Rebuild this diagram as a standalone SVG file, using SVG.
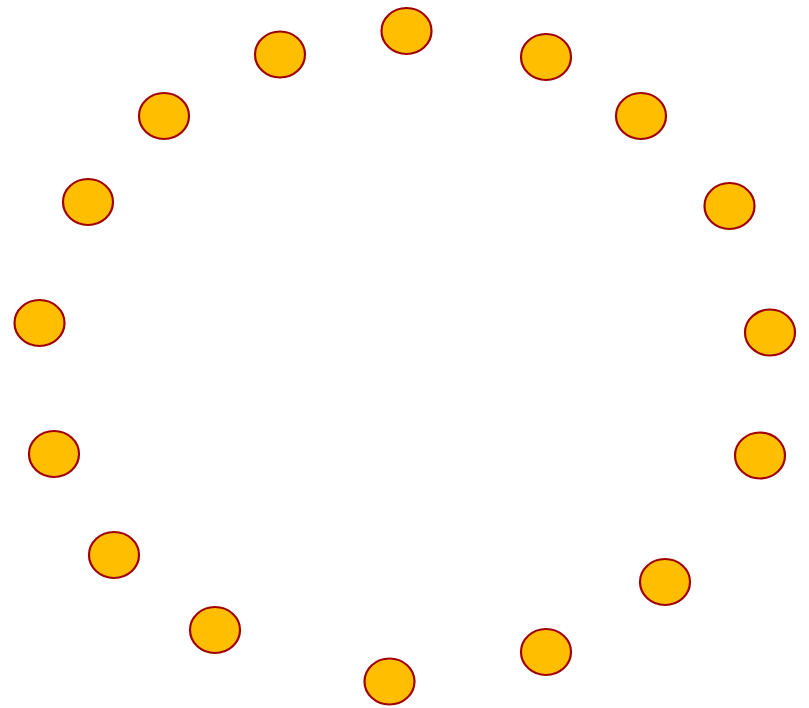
<svg xmlns="http://www.w3.org/2000/svg" width="809" height="708" viewBox="0 0 809 708">
<style>
.n{fill:#FFBF00;stroke:#A00000;stroke-width:2.2}
</style>
<rect width="809" height="708" fill="#ffffff"/>
<g id="connectors"></g>
<g id="n1"><ellipse class="n" cx="406.5" cy="31" rx="25" ry="23"/></g>
<g id="n2"><ellipse class="n" cx="280" cy="54.5" rx="25" ry="23"/></g>
<g id="n3"><ellipse class="n" cx="546" cy="57" rx="25" ry="23"/></g>
<g id="n4"><ellipse class="n" cx="164" cy="116" rx="25" ry="23"/></g>
<g id="n5"><ellipse class="n" cx="641" cy="116" rx="25" ry="23"/></g>
<g id="n6"><ellipse class="n" cx="88" cy="202" rx="25" ry="23"/></g>
<g id="n7"><ellipse class="n" cx="729.5" cy="206" rx="25" ry="23"/></g>
<g id="n8"><ellipse class="n" cx="39.5" cy="323" rx="25" ry="23"/></g>
<g id="n9"><ellipse class="n" cx="770" cy="332.5" rx="25" ry="23"/></g>
<g id="n10"><ellipse class="n" cx="54" cy="454" rx="25" ry="23"/></g>
<g id="n11"><ellipse class="n" cx="760" cy="455.5" rx="25" ry="23"/></g>
<g id="n12"><ellipse class="n" cx="114" cy="555" rx="25" ry="23"/></g>
<g id="n13"><ellipse class="n" cx="665" cy="582" rx="25" ry="23"/></g>
<g id="n14"><ellipse class="n" cx="215" cy="630" rx="25" ry="23"/></g>
<g id="n15"><ellipse class="n" cx="546" cy="652" rx="25" ry="23"/></g>
<g id="n16"><ellipse class="n" cx="389.5" cy="681.5" rx="25" ry="23"/></g>
</svg>
